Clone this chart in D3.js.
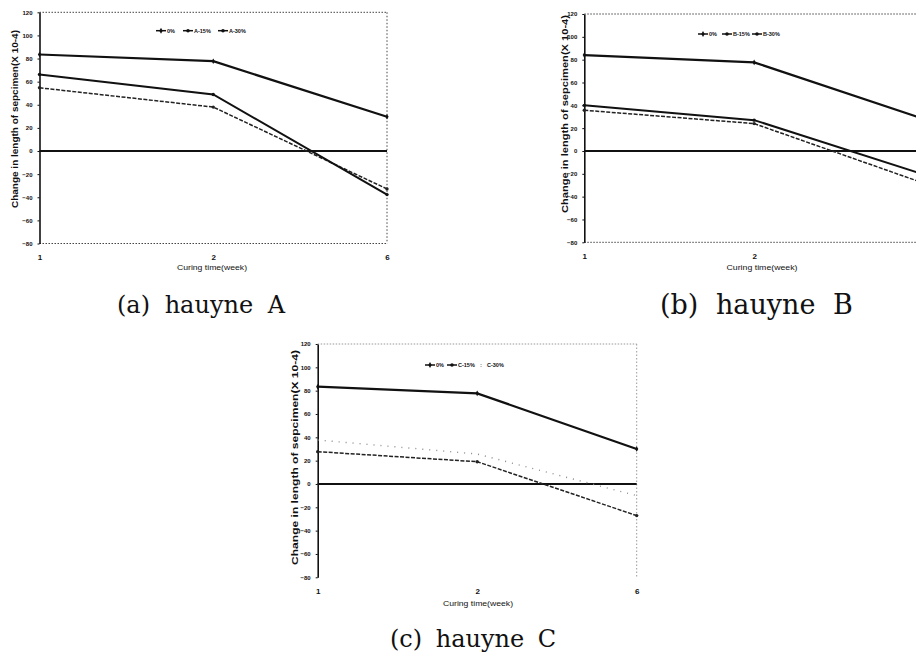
<!DOCTYPE html>
<html>
<head>
<meta charset="utf-8">
<script src="https://cdn.jsdelivr.net/npm/d3@7"></script>
<style>
  html, body { margin: 0; padding: 0; background: #fff; }
  svg { display: block; }
</style>
</head>
<body>
<svg id="chart" width="916" height="657"></svg>
<script>
// ---------------- data ----------------
const weeks = ["1", "2", "6"];
const yTicks = [120, 100, 80, 60, 40, 20, 0, -20, -40, -60, -80];
const yDomain = [-80, 120];

const legendA = ["0%", "A-15%", "A-30%"];
const legendB = ["0%", "B-15%", "B-30%"];
const legendC = ["0%", "C-15%", "C-30%"];

// hauyne A
const aRef = [83.5, 77.7, 29.6];
const aLow = [54.7, 38.0, -32.8];
const aHigh = [66.2, 48.9, -37.7];
// hauyne B
const bRef = [84.0, 77.6, 28.0];
const bLow = [35.7, 24.0, -28.3];
const bHigh = [40.0, 27.0, -20.6];
// hauyne C
const cRef = [83.4, 77.7, 30.0];
const cLow = [27.7, 19.1, -27.1];
const cHigh = [37.7, 25.7, -10.0];

const yTitle = "Change in length of sepcimen(X 10-4)";
const xTitle = "Curing time(week)";
const captions = ["(a) hauyne A", "(b) hauyne B", "(c) hauyne C"];

// ---------------- layout ----------------
const W = 916;
const panels = [
  { cap: captions[0], legend: legendA, series: [aRef, aLow, aHigh], third: "solid",
    x1: 39.5, x6: 387, yTop: 12.3, yBot: 243.5,
    yTitleX: 16, yTitleCY: 119, yTitleLen: 178, yTitleFs: 8.5,
    xTitleCX: 212, xTitleY: 270, xTitleLen: 70, xTitleFs: 8,
    tickFs: 6, legY: 30.7, legX: [156, 183, 218],
    capX: 117, capY: 313, capFs: 24, capWs: 7, border: "#444", bottomBorder: true },
  { cap: captions[1], legend: legendB, series: [bRef, bLow, bHigh], third: "solid",
    x1: 584.3, x6: 924, yTop: 14, yBot: 242.3,
    yTitleX: 565, yTitleCY: 114, yTitleLen: 198, yTitleFs: 9.5,
    xTitleCX: 762, xTitleY: 270, xTitleLen: 71, xTitleFs: 8,
    tickFs: 6, legY: 34, legX: [698, 722, 752],
    capX: 660, capY: 314, capFs: 27, capWs: 9, border: "#444", bottomBorder: true },
  { cap: captions[2], legend: legendC, series: [cRef, cLow, cHigh], third: "dotted",
    x1: 317.7, x6: 636.7, yTop: 344, yBot: 577.3,
    yTitleX: 295, yTitleCY: 457.5, yTitleLen: 215, yTitleFs: 9.5,
    xTitleCX: 478, xTitleY: 606, xTitleLen: 70, xTitleFs: 8,
    tickFs: 6, legY: 365, legX: [425, 447, 478],
    capX: 390, capY: 647, capFs: 24, capWs: 6, border: "#999", bottomBorder: false }
];

const svg = d3.select("#chart");
const font = "'Liberation Sans', Arial, sans-serif";

function styleFor(i, third) {
  if (i === 0) return { stroke: "#111", width: 2.2, dash: null };
  if (i === 1) return { stroke: "#222", width: 1.5, dash: "4,1.5" };
  if (third === "dotted") return { stroke: "#8a8a8a", width: 1.4, dash: "1,6" };
  return { stroke: "#111", width: 2.0, dash: null };
}

panels.forEach(p => {
  const g = svg.append("g");
  const x = d3.scalePoint().domain(weeks).range([p.x1, p.x6]);
  const y = d3.scaleLinear().domain(yDomain).range([p.yBot, p.yTop]);

  // dotted frame
  g.append("line").attr("x1", p.x1).attr("x2", p.x6).attr("y1", y(120)).attr("y2", y(120))
    .attr("stroke", p.border).attr("stroke-width", 1).attr("stroke-dasharray", "1.5,1.5");
  g.append("line").attr("x1", p.x6).attr("x2", p.x6).attr("y1", y(120)).attr("y2", y(-80))
    .attr("stroke", p.border).attr("stroke-width", 1).attr("stroke-dasharray", "1.5,2");
  if (p.bottomBorder) {
    g.append("line").attr("x1", p.x1).attr("x2", p.x6).attr("y1", y(-80)).attr("y2", y(-80))
      .attr("stroke", p.border).attr("stroke-width", 1).attr("stroke-dasharray", "1.5,1.5");
  }

  // zero line
  g.append("line").attr("x1", p.x1).attr("x2", p.x6).attr("y1", y(0)).attr("y2", y(0))
    .attr("stroke", "#111").attr("stroke-width", 2);

  // y axis
  const ya = g.append("g").attr("transform", `translate(${p.x1},0)`)
    .call(d3.axisLeft(y).tickValues(yTicks).tickSize(2).tickSizeOuter(0).tickPadding(5));
  ya.select(".domain").attr("stroke", "#111").attr("stroke-width", 1.6);
  ya.selectAll(".tick line").attr("stroke", "#111");
  ya.selectAll(".tick text").attr("font-family", font).attr("font-size", p.tickFs)
    .attr("font-weight", "bold").attr("fill", "#111");

  // x axis labels (labels falling outside the page are cropped away, as in the source)
  const xa = g.append("g").attr("transform", `translate(0,${p.yBot})`)
    .call(d3.axisBottom(x).tickSize(0).tickPadding(11));
  xa.select(".domain").remove();
  xa.selectAll(".tick").filter(d => x(d) > W - 4).remove();
  xa.selectAll(".tick text").attr("font-family", font).attr("font-size", 8)
    .attr("font-weight", "bold").attr("fill", "#111");

  // titles
  g.append("text").attr("transform", `translate(${p.yTitleX},${p.yTitleCY}) rotate(-90)`)
    .attr("text-anchor", "middle").attr("dominant-baseline", "middle")
    .attr("font-family", font).attr("font-weight", "bold").attr("font-size", p.yTitleFs)
    .attr("textLength", p.yTitleLen).attr("lengthAdjust", "spacingAndGlyphs")
    .attr("fill", "#111").text(yTitle);
  g.append("text").attr("x", p.xTitleCX).attr("y", p.xTitleY).attr("text-anchor", "middle")
    .attr("font-family", font).attr("font-size", p.xTitleFs).attr("fill", "#111")
    .attr("textLength", p.xTitleLen).attr("lengthAdjust", "spacingAndGlyphs")
    .text(xTitle);

  // series
  const line = d3.line().x((d, i) => x(weeks[i])).y(d => y(d));
  p.series.forEach((vals, i) => {
    const st = styleFor(i, p.third);
    g.append("path").datum(vals).attr("d", line).attr("fill", "none")
      .attr("stroke", st.stroke).attr("stroke-width", st.width)
      .attr("stroke-dasharray", st.dash);
    if (!(i === 2 && p.third === "dotted")) {
      g.selectAll(null).data(vals).enter().append("path")
        .attr("transform", (d, j) => `translate(${x(weeks[j])},${y(d)})`)
        .attr("d", d3.symbol().type(i === 0 ? d3.symbolDiamond : d3.symbolCircle).size(9))
        .attr("fill", st.stroke);
    }
  });

  // legend
  p.legend.forEach((name, i) => {
    const lx = p.legX[i];
    const lg = g.append("g");
    if (i === 2 && p.third === "dotted") {
      lg.append("text").attr("x", lx + 2).attr("y", p.legY + 2).attr("font-family", font)
        .attr("font-size", 6).attr("font-weight", "bold").attr("fill", "#555").text(":");
      lg.append("text").attr("x", lx + 9).attr("y", p.legY + 2).attr("font-family", font)
        .attr("font-size", 5.5).attr("font-weight", "bold").attr("fill", "#111").text(name);
      return;
    }
    lg.append("line").attr("x1", lx).attr("x2", lx + 10).attr("y1", p.legY).attr("y2", p.legY)
      .attr("stroke", "#111").attr("stroke-width", 1.5);
    lg.append("path").attr("transform", `translate(${lx + 5},${p.legY})`)
      .attr("d", d3.symbol().type(i === 0 ? d3.symbolDiamond : d3.symbolCircle).size(10))
      .attr("fill", "#111");
    lg.append("text").attr("x", lx + 11).attr("y", p.legY + 2).attr("font-family", font)
      .attr("font-size", 5.5).attr("font-weight", "bold").attr("fill", "#111").text(name);
  });

  // caption
  svg.append("text").attr("x", p.capX).attr("y", p.capY)
    .attr("font-family", "'DejaVu Serif', 'Liberation Serif', serif")
    .attr("font-size", p.capFs).attr("fill", "#111")
    .style("word-spacing", p.capWs + "px")
    .text(p.cap);
});
</script>
</body>
</html>
